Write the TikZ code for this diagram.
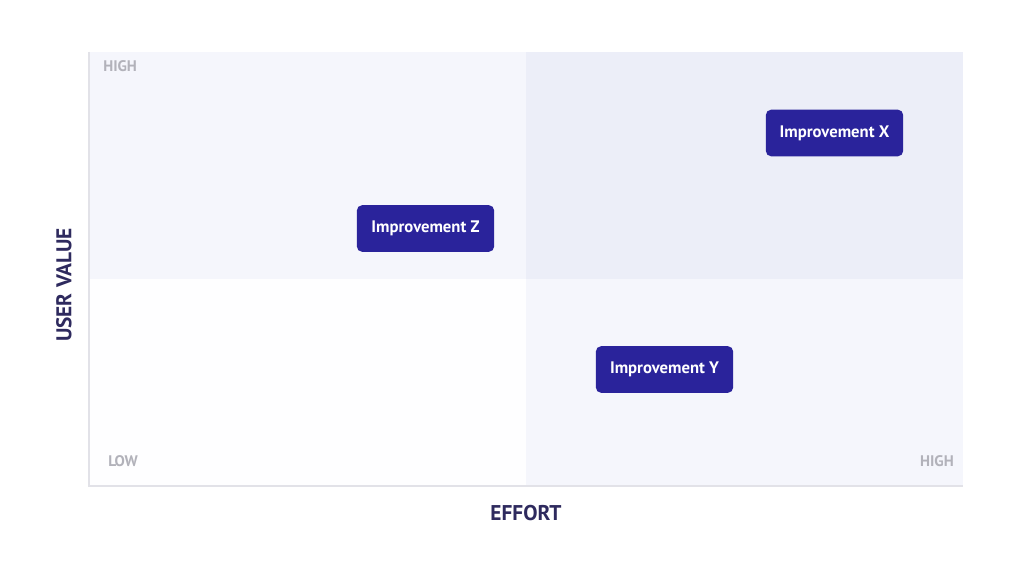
\documentclass[tikz,border=0pt]{standalone}
\usepackage{fontspec}
\setmainfont{PT Sans}
\definecolor{boxblue}{HTML}{2A239B}
\definecolor{quadA}{HTML}{F5F6FC}
\definecolor{quadB}{HTML}{ECEEF8}
\definecolor{quadC}{HTML}{FEFEFF}
\definecolor{quadD}{HTML}{F5F6FC}
\definecolor{axisgray}{HTML}{E2E2E8}
\definecolor{tickgray}{HTML}{B2B2BA}
\definecolor{titledark}{HTML}{2E2A5E}
\begin{document}
\begin{tikzpicture}[x=0.75pt,y=-0.75pt]
	\tikzstyle{item}=[rectangle,rounded corners=4pt,fill=boxblue,text=white,font=\bfseries\fontsize{12.5}{14}\selectfont,minimum width=103pt,minimum height=35pt,inner sep=2pt]
	\tikzstyle{tick}=[text=tickgray,font=\bfseries\fontsize{11.5}{13}\selectfont,inner sep=0pt]
	\tikzstyle{axislabel}=[text=titledark,font=\bfseries\fontsize{16}{18}\selectfont,inner sep=0pt]
	\useasboundingbox[fill=white] (0,0) rectangle (1014,570);

	% quadrants
	\fill[quadA] (89,52) rectangle (526,279);
	\fill[quadB] (526,52) rectangle (963,279);
	\fill[quadC] (89,279) rectangle (526,486);
	\fill[quadD] (526,279) rectangle (963,486);

	% axes
	\coordinate (O) at (89,486);
	\coordinate (T) at (89,52);
	\coordinate (R) at (963,486);
	\draw[axisgray,line width=1pt] (T) -- (O) -- (R);

	\node[tick, anchor=west] (H1) at (103,66) {HIGH};
	\node[tick, anchor=west] (L1) at (108,461) {LOW};
	\node[tick, anchor=east] (H2) at (954,461) {HIGH};

	\node[axislabel] (EF) at (526,513) {EFFORT};
	\node[axislabel, rotate=90] (UV) at (64,285) {USER VALUE};

	\node[item] (IX) at (834.5,133) {Improvement X};
	\node[item] (IZ) at (425.5,228.5) {Improvement Z};
	\node[item] (IY) at (664.5,369.5) {Improvement Y};
\end{tikzpicture}
\end{document}
